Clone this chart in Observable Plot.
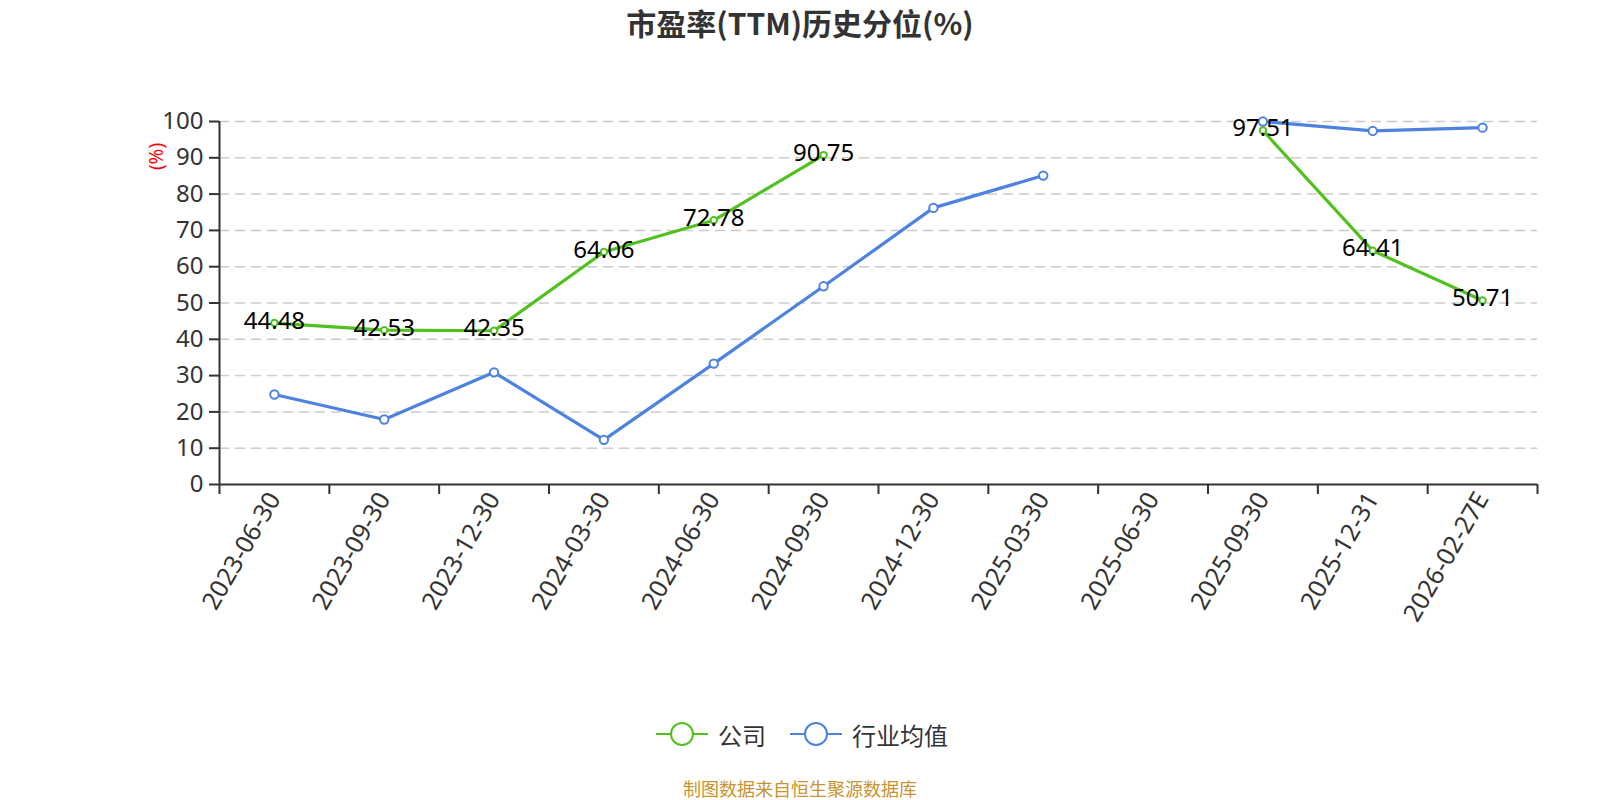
<!DOCTYPE html>
<html>
<head>
<meta charset="utf-8">
<script src="https://cdn.jsdelivr.net/npm/d3@7"></script>
<script src="https://cdn.jsdelivr.net/npm/@observablehq/plot@0.6"></script>
<style>
  html, body { margin: 0; padding: 0; background: #fff; }
  body { width: 1600px; height: 800px; position: relative; overflow: hidden;
         font-family: "Noto Sans", "Noto Sans CJK SC", sans-serif; color: #333; }
  #title { position: absolute; top: 0; left: 0; width: 1600px; height: 45px; line-height: 45px;
           text-align: center; font-size: 30px; font-weight: bold; color: #333;
           font-family: "Noto Sans CJK SC", "Noto Sans", sans-serif; }
  #chart { position: absolute; top: 60px; left: 0; }
  #legend { position: absolute; top: 719px; left: 656px; height: 30px; display: flex; align-items: center;
            font-size: 24px; color: #333; font-family: "Noto Sans CJK SC", sans-serif; }
  #legend .item { display: flex; align-items: center; }
  #legend .item span { margin-left: 10px; }
  #caption { position: absolute; top: 777px; left: 0; width: 1600px; line-height: 22px; text-align: center;
             font-size: 18px; color: #c89330; font-family: "Noto Sans CJK SC", sans-serif; }
</style>
</head>
<body>
<div id="title">市盈率(TTM)历史分位(%)</div>
<div id="chart"></div>
<div id="legend"></div>
<div id="caption">制图数据来自恒生聚源数据库</div>
<script>
const dates = ["2023-06-30","2023-09-30","2023-12-30","2024-03-30","2024-06-30","2024-09-30",
               "2024-12-30","2025-03-30","2025-06-30","2025-09-30","2025-12-31","2026-02-27E"];
const company  = [44.48, 42.53, 42.35, 64.06, 72.78, 90.75, null, null, null, 97.51, 64.41, 50.71];
const industry = [24.8, 17.9, 30.9, 12.3, 33.3, 54.6, 76.2, 85.1, null, 100.0, 97.4, 98.3];
const yTicks = [0,10,20,30,40,50,60,70,80,90,100];
const seriesNames = ["公司", "行业均值"];
const colors = ["#52c11f", "#4d82e0"];

const companyRows = dates.map((d, i) => ({i: i + 0.5, date: d, v: company[i] == null ? NaN : company[i]}));
const industryRows = dates.map((d, i) => ({i: i + 0.5, date: d, v: industry[i] == null ? NaN : industry[i]}));
const companyPts = companyRows.filter(r => !isNaN(r.v));
const industryPts = industryRows.filter(r => !isNaN(r.v));

const chart = Plot.plot({
  width: 1600,
  height: 600,
  marginLeft: 219,
  marginRight: 63,
  marginTop: 61,
  marginBottom: 176,
  style: {fontFamily: "'Noto Sans', 'Noto Sans CJK SC', sans-serif", fontSize: "24px", color: "#333", background: "#fff", overflow: "visible"},
  x: {type: "linear", domain: [0, dates.length]},
  y: {domain: [0, 100]},
  marks: [
    Plot.gridY(yTicks.filter(t => t > 0), {stroke: "#cccccc", strokeOpacity: 1, strokeWidth: 1.5, strokeDasharray: "10,6"}),
    Plot.axisY({ticks: yTicks, tickSize: 10, tickPadding: 6, fontSize: 24, stroke: "#333", strokeWidth: 2, fill: "#333", label: null}),
    Plot.axisX({ticks: d3.range(0, dates.length + 1), tickSize: 10, tickFormat: () => "", stroke: "#333", strokeWidth: 2, label: null}),
    Plot.axisX({ticks: d3.range(0, dates.length).map(i => i + 0.5), tickSize: 0, tickPadding: 10,
                tickFormat: t => dates[Math.floor(t)], tickRotate: -60, fontSize: 25, fill: "#333", label: null}),
    Plot.ruleY([0], {stroke: "#333", strokeWidth: 2}),
    Plot.ruleX([0], {stroke: "#333", strokeWidth: 2}),
    Plot.text(["(%)"], {frameAnchor: "top-left", textAnchor: "middle", lineAnchor: "middle", dx: -63, dy: 35, rotate: -90, fill: "red", fontSize: 19}),
    Plot.line(companyRows, {x: "i", y: "v", stroke: colors[0], strokeWidth: 3.2}),
    Plot.line(industryRows, {x: "i", y: "v", stroke: colors[1], strokeWidth: 3.2}),
    Plot.dot(companyPts, {x: "i", y: "v", r: 3.2, fill: "#fff", stroke: colors[0], strokeWidth: 2}),
    Plot.dot(industryPts, {x: "i", y: "v", r: 4.2, fill: "#fff", stroke: colors[1], strokeWidth: 2}),
    Plot.text(companyPts, {x: "i", y: "v", text: d => d.v.toFixed(2), fill: "#000", fontSize: 24, dy: -2})
  ]
});
document.getElementById("chart").appendChild(chart);

const legend = document.getElementById("legend");
seriesNames.forEach((name, k) => {
  const item = document.createElement("div");
  item.className = "item";
  if (k > 0) item.style.marginLeft = "24px";
  item.innerHTML = `<svg width="52" height="30"><line x1="0" x2="52" y1="15" y2="15" stroke="${colors[k]}" stroke-width="2"/><circle cx="26" cy="15" r="11" fill="#fff" stroke="${colors[k]}" stroke-width="2"/></svg><span>${name}</span>`;
  legend.appendChild(item);
});
</script>
</body>
</html>
